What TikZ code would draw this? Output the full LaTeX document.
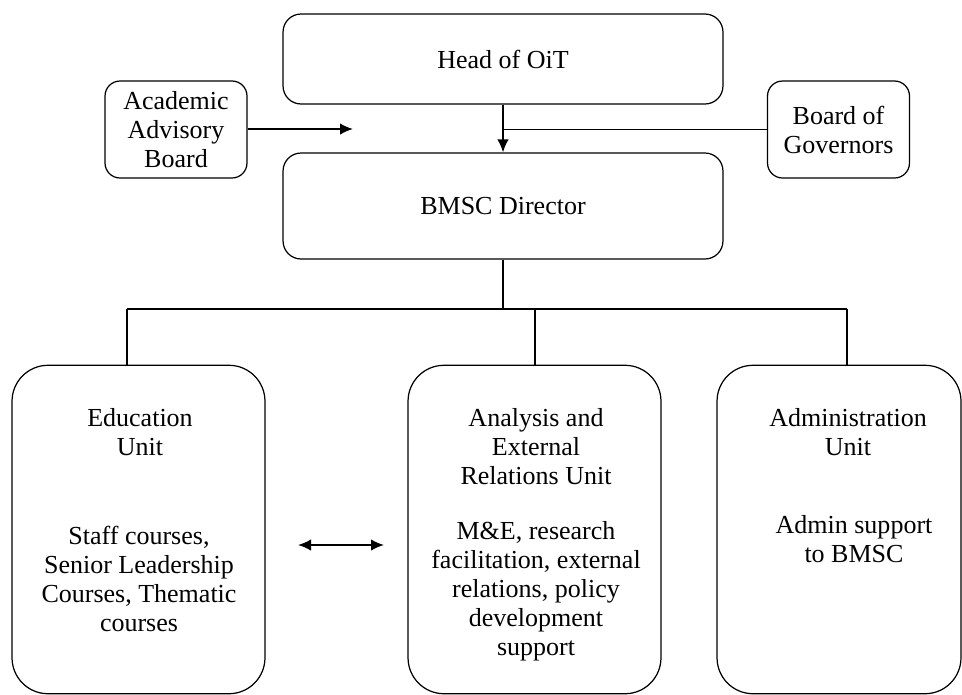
\documentclass[tikz,border=0pt]{standalone}
\usepackage{fontspec}
\setmainfont{Liberation Serif}
\usepackage{tikz}
\usetikzlibrary{arrows.meta}

\tikzset{
  topbox/.style={draw, line width=0.7pt, rounded corners=0.36cm, minimum width=8.8cm},
  sidebox/.style={draw, line width=0.7pt, rounded corners=0.3cm, minimum width=2.84cm, minimum height=1.94cm, align=center, inner sep=0pt},
  unitbox/.style={draw, line width=0.7pt, rounded corners=0.72cm, minimum width=5.06cm, minimum height=6.57cm},
  unittext/.style={align=center, inner sep=0pt},
  link/.style={line width=1pt},
  >={Latex[length=0.26cm, width=0.23cm]}
}

\begin{document}
\begin{tikzpicture}[x=0.02cm, y=-0.02cm, font=\fontsize{14.8}{16.5}\selectfont]
        \useasboundingbox (0,0) rectangle (962,694);

        % Nodes
        \node[topbox, minimum height=1.8cm] (head) at (503, 59) {Head of OiT};
        \node[topbox, minimum height=2.12cm] (director) at (503, 206) {BMSC Director};
        \node[sidebox] (advisory) at (176, 129.5) {Academic\\Advisory\\Board};
        \node[sidebox] (governors) at (838.5, 129.5) {Board of\\Governors};

        \node[unitbox] (edu) at (138.5, 529.5) {};
        \node[unitbox] (ana) at (534.5, 529.5) {};
        \node[unitbox, minimum width=4.88cm] (admin) at (839, 529.5) {};

        \node[unittext] (eduhead) at (140, 432) {Education\\Unit};
        \node[unittext] (edubody) at (139, 579) {Staff courses,\\Senior Leadership\\Courses, Thematic\\courses};
        \node[unittext] (anahead) at (536, 447) {Analysis and\\External\\Relations Unit};
        \node[unittext] (anabody) at (536, 591) {M\&E, research\\facilitation, external\\relations, policy\\development\\support};
        \node[unittext] (adminhead) at (848, 432) {Administration\\Unit};
        \node[unittext] (adminbody) at (854, 539) {Admin support\\to BMSC};

        % Coordinates
        \coordinate (advisoryend) at (353, 129);
        \coordinate (split) at (503, 309);
        \coordinate (edudrop) at (127, 309);
        \coordinate (anadrop) at (535, 309);
        \coordinate (admindrop) at (847, 309);
        \coordinate (linkleft) at (298, 545);
        \coordinate (linkright) at (384, 545);

        % Lines
        \draw[link, ->] (head.south) -- (director.north);
        \draw[link] (governors.west) -- (governors.west -| head.south);
        \draw[link, ->] (advisory.east |- advisoryend) -- (advisoryend);
        \draw[link] (director.south) -- (split);
        \draw[link] (edudrop) -- (admindrop);
        \draw[link] (edudrop) -- (edudrop |- edu.north);
        \draw[link] (anadrop) -- (anadrop |- ana.north);
        \draw[link] (admindrop) -- (admindrop |- admin.north);
        \draw[link, <->] (linkleft) -- (linkright);
    \end{tikzpicture}
\end{document}
